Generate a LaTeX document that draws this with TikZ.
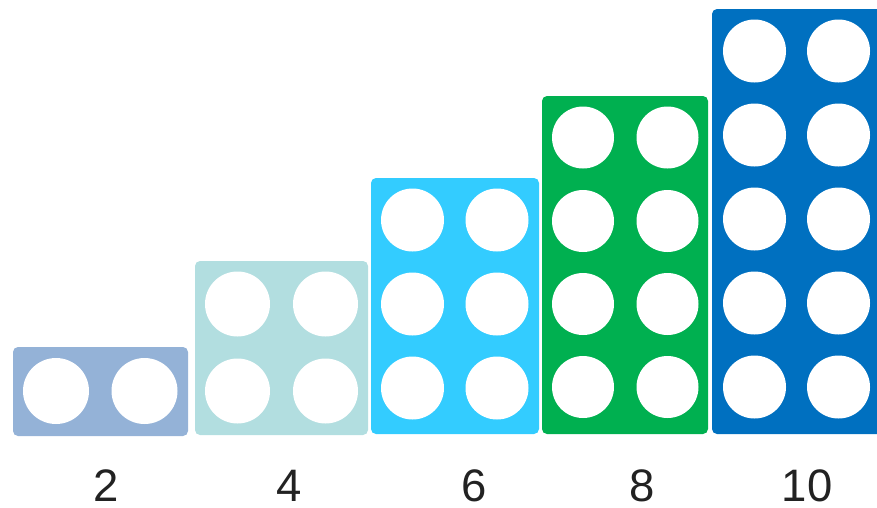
\documentclass[tikz,border=0pt]{standalone}
\usepackage{fontspec}
\setmainfont{Liberation Sans}
\definecolor{cTwo}{RGB}{148,178,215}
\definecolor{cFour}{RGB}{178,222,224}
\definecolor{cSix}{RGB}{51,204,255}
\definecolor{cEight}{RGB}{0,176,80}
\definecolor{cTen}{RGB}{0,112,192}
\definecolor{txt}{RGB}{34,34,34}
\begin{document}
\begin{tikzpicture}[x=1pt,y=-1pt,
  block/.style={rectangle,rounded corners=5pt,inner sep=0pt,draw=none},
  hole/.style={circle,fill=white,inner sep=0pt,draw=none},
  numlabel/.style={anchor=base,inner sep=0pt,text=txt,font=\fontsize{45.5}{46}\selectfont}]
\useasboundingbox (0,0) rectangle (877,507);
\begin{scope}
\clip (0,0) rectangle (877,507);
% blocks
\node[block,fill=cTwo,minimum width=175pt,minimum height=89pt] (b2) at (100.5,391.5) {};
\node[block,fill=cFour,minimum width=173pt,minimum height=174pt] (b4) at (281.5,348) {};
\node[block,fill=cSix,minimum width=168pt,minimum height=256pt] (b6) at (455,306) {};
\node[block,fill=cEight,minimum width=166pt,minimum height=338pt] (b8) at (625,265) {};
\node[block,fill=cTen,minimum width=178pt,minimum height=425pt] (b10) at (801,221.5) {};
% holes
\foreach \x [count=\i] in {56,144.5}
  \node[hole,minimum size=66pt] (h2-\i) at (\x,391) {};
\foreach \x [count=\i] in {237.5,325.5}
  \foreach \y [count=\j] in {304,391}
    \node[hole,minimum size=65pt] (h4-\i-\j) at (\x,\y) {};
\foreach \x [count=\i] in {412.5,497}
  \foreach \y [count=\j] in {220,304,388}
    \node[hole,minimum size=63pt] (h6-\i-\j) at (\x,\y) {};
\foreach \x [count=\i] in {583,667.5}
  \foreach \y [count=\j] in {137.5,221,304,387}
    \node[hole,minimum size=62pt] (h8-\i-\j) at (\x,\y) {};
\foreach \x [count=\i] in {754.5,838.5}
  \foreach \y [count=\j] in {51,135,219,303,387}
    \node[hole,minimum size=63pt] (h10-\i-\j) at (\x,\y) {};
\end{scope}
% labels
\node[numlabel] (l2) at (106,501) {2};
\node[numlabel] (l4) at (289,501) {4};
\node[numlabel] (l6) at (474,501) {6};
\node[numlabel] (l8) at (642,501) {8};
\node[numlabel] (l10) at (807,501) {10};
\end{tikzpicture}
\end{document}
